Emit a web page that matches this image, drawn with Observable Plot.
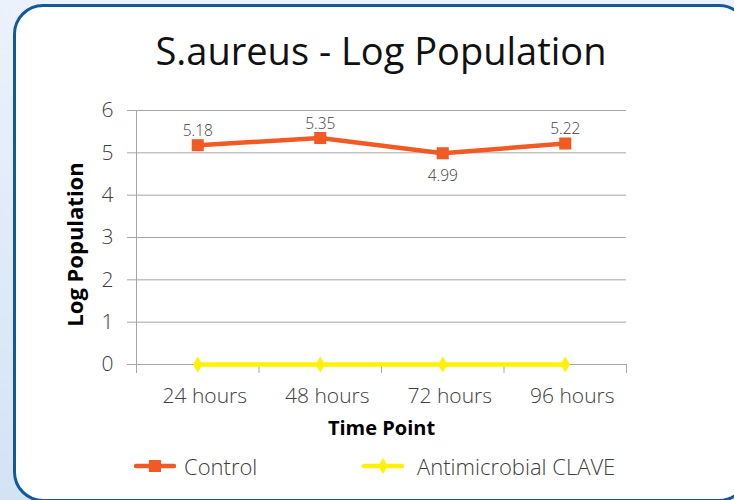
<!DOCTYPE html>
<html><head><meta charset="utf-8">
<script src="https://cdn.jsdelivr.net/npm/d3@7"></script>
<script src="https://cdn.jsdelivr.net/npm/@observablehq/plot@0.6"></script>
<style>
html,body{margin:0;padding:0;}
body{width:734px;height:500px;overflow:hidden;position:relative;background:linear-gradient(180deg,#ecf2fb 0%,#d3e3f4 100%);font-family:"Open Sans",sans-serif;}
#card{position:absolute;left:13px;top:4px;width:730px;height:492px;border:3px solid #10599f;border-radius:30px;background:#fff;}
#title{position:absolute;left:0;width:762px;top:25px;text-align:center;font-size:38px;line-height:50px;color:#111;white-space:nowrap;}
#chart{position:absolute;left:0;top:0;}
#legend{position:absolute;top:452px;left:0;width:734px;height:28px;}
.item{position:absolute;top:0;height:28px;display:flex;align-items:center;font-size:22px;font-weight:300;color:#404040;white-space:nowrap;}
.item svg{display:block;}
</style></head>
<body>
<div id="card"></div>
<div id="title">S.aureus - Log Population</div>
<div id="chart"></div>
<div id="legend"></div>
<script>
const categories = ["24 hours", "48 hours", "72 hours", "96 hours"];
const controlValues = [5.18, 5.35, 4.99, 5.22];
const claveValues = [0, 0, 0, 0];
const yTicks = [0, 1, 2, 3, 4, 5, 6];
const seriesNames = ["Control", "Antimicrobial CLAVE"];
const seriesColors = ["#f15a24", "#fff200"];
const seriesSymbols = ["square", "diamond"];

const rows = [];
categories.forEach((c, i) => {
  rows.push({cat: c, i, series: seriesNames[0], value: controlValues[i]});
  rows.push({cat: c, i, series: seriesNames[1], value: claveValues[i]});
});
const control = rows.filter(d => d.series === seriesNames[0]);
const clave = rows.filter(d => d.series === seriesNames[1]);
const isLocalMin = d => {
  const v = controlValues;
  return d.i > 0 && d.i < v.length - 1 && d.value < v[d.i - 1] && d.value < v[d.i + 1];
};
const X = d => d.i + 0.5;
const gray = "#a6a6a6";
const font = "Open Sans";

const chart = Plot.plot({
  width: 734,
  height: 500,
  marginTop: 110,
  marginBottom: 136,
  marginLeft: 136,
  marginRight: 108,
  style: {background: "transparent", fontFamily: font, overflow: "visible"},
  x: {domain: [0, categories.length]},
  y: {domain: [0, 6]},
  color: {domain: seriesNames, range: seriesColors},
  marks: [
    Plot.gridY(yTicks, {stroke: gray, strokeOpacity: 1, strokeWidth: 1}),
    Plot.axisY(yTicks, {tickSize: 9, tickPadding: 14, stroke: gray, fill: "#404040", fontSize: 21, fontWeight: 300, label: null, tickFormat: d => String(d)}),
    Plot.ruleX([0], {stroke: gray}),
    Plot.axisX(d3.range(categories.length + 1), {tickSize: 9, stroke: gray, tickFormat: () => "", label: null}),
    Plot.axisX(d3.range(categories.length).map(i => i + 0.5), {tickSize: 0, tickPadding: 24, dx: 7, fill: "#404040", fontSize: 21, fontWeight: 300, label: null, tickFormat: v => categories[Math.floor(v)]}),
    Plot.text(["Log Population"], {text: d => d, frameAnchor: "left", textAnchor: "middle", lineAnchor: "middle", dx: -61, dy: 7, rotate: -90, fontSize: 22, fontWeight: "bold", fill: "#000"}),
    Plot.text(["Time Point"], {text: d => d, frameAnchor: "bottom", textAnchor: "middle", lineAnchor: "middle", dy: 64, fontSize: 20, fontWeight: "bold", fill: "#000"}),
    Plot.line(rows, {x: X, y: "value", z: "series", stroke: "series", strokeWidth: 4.5, strokeLinejoin: "round"}),
    Plot.dot(control, {x: X, y: "value", symbol: seriesSymbols[0], r: 6.8, fill: seriesColors[0], stroke: "none"}),
    Plot.dot(clave, {x: X, y: "value", symbol: seriesSymbols[1], r: 4.9, fill: seriesColors[1], stroke: "none"}),
    Plot.text(control.filter(d => !isLocalMin(d)), {x: X, y: "value", text: d => d.value.toFixed(2), dy: -14, fontSize: 15.5, fontWeight: 300, fill: "#404040"}),
    Plot.text(control.filter(isLocalMin), {x: X, y: "value", text: d => d.value.toFixed(2), dy: 23, fontSize: 15.5, fontWeight: 300, fill: "#404040"})
  ]
});
document.getElementById("chart").appendChild(chart);

// legend
const legendLeft = [134, 362];
const legend = d3.select("#legend");
seriesNames.forEach((name, k) => {
  const item = legend.append("div").attr("class", "item").style("left", legendLeft[k] + "px");
  const svg = item.append("svg").attr("width", 42).attr("height", 28);
  svg.append("line").attr("x1", 2).attr("x2", 40).attr("y1", 14).attr("y2", 14)
    .attr("stroke", seriesColors[k]).attr("stroke-width", 4.5).attr("stroke-linecap", "round");
  const sym = k === 0 ? d3.symbolSquare : d3.symbolDiamond;
  const r = k === 0 ? 6.8 : 4.9;
  svg.append("path").attr("transform", "translate(21,14)")
    .attr("d", d3.symbol(sym, r * r * Math.PI)()).attr("fill", seriesColors[k]);
  item.append("span").style("margin-left", (k === 0 ? 8 : 13) + "px").text(name);
});
</script>
</body></html>
